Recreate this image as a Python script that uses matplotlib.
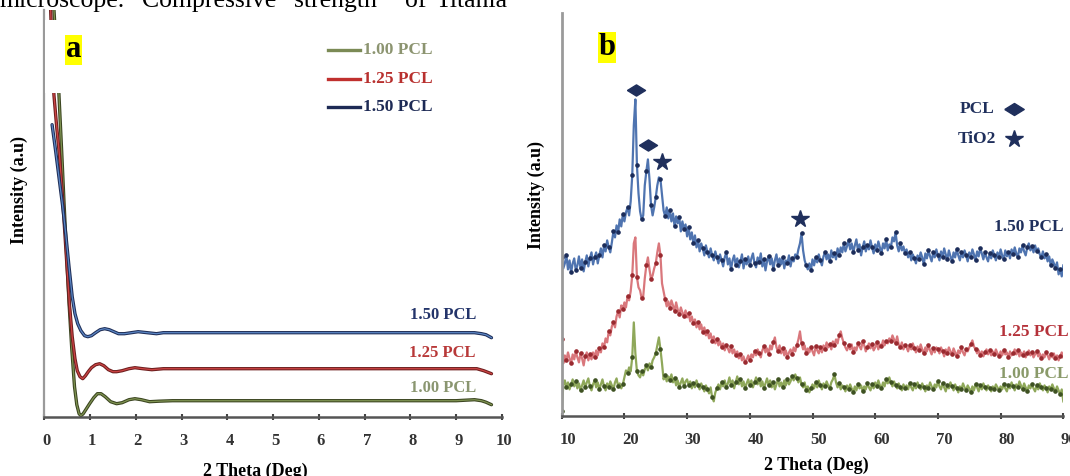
import matplotlib.pyplot as plt
import matplotlib.transforms as mtransforms
import numpy as np
from matplotlib.patches import Rectangle

plt.rcParams['font.family'] = ['Liberation Serif', 'DejaVu Serif']
plt.rcParams['font.weight'] = 'bold'

# ---- panel a : low angle curves (intensity in arbitrary units) ----
a_blue_x = [0.17, 0.25, 0.33, 0.40, 0.47, 0.54, 0.61, 0.67, 0.73, 0.80, 0.88, 0.95, 1.03, 1.12,
            1.22, 1.32, 1.42, 1.52, 1.62, 1.75, 1.90, 2.05, 2.25, 2.45, 2.6, 3.0, 4.0, 5.0, 6.0,
            7.0, 8.0, 9.0, 9.4, 9.55, 9.65, 9.77]
a_blue_y = [292, 265, 236, 211, 182, 150, 120, 103, 93, 86, 81, 80, 81, 84,
            87, 88, 87, 85, 83, 83, 84, 85, 84, 83, 84, 84, 84, 84, 84,
            84, 84, 84, 84, 83, 82, 79]

a_red_x = [0.12, 0.16, 0.21, 0.27, 0.33, 0.38, 0.44, 0.50, 0.55, 0.61, 0.67, 0.72, 0.78, 0.84,
           0.90, 0.96, 1.03, 1.12, 1.21, 1.30, 1.40, 1.50, 1.58, 1.70, 1.85, 1.98, 2.15, 2.35,
           2.6, 3.0, 4.0, 5.0, 6.0, 7.0, 8.0, 9.0, 9.45, 9.6, 9.77]
a_red_y = [430, 380, 322, 290, 262, 232, 190, 147, 112, 80, 58, 46, 40, 38,
           41, 45, 49, 52, 53, 51, 47, 45, 45, 46, 48, 49, 48, 47,
           48, 48, 48, 48, 48, 48, 48, 48, 48, 46, 43]

a_green_x = [0.17, 0.22, 0.27, 0.32, 0.38, 0.43, 0.49, 0.54, 0.60, 0.66, 0.71, 0.76, 0.80, 0.85,
             0.92, 0.99, 1.08, 1.16, 1.24, 1.33, 1.45, 1.58, 1.70, 1.85, 1.98, 2.12, 2.30, 2.5,
             2.8, 3.2, 4.0, 5.0, 6.0, 7.0, 8.0, 9.0, 9.4, 9.55, 9.65, 9.77]
a_green_y = [440, 400, 360, 322, 265, 215, 160, 114, 68, 30, 12, 3, 1, 3,
             8, 13, 19, 23, 23, 20, 15, 13, 14, 17, 18, 17, 15, 15.5,
             16, 16, 16, 16, 16, 16, 16, 16, 17, 16, 14.5, 12]

# ---- panel b : XRD patterns, one value every 0.25 deg from 10 to 90 (rows of 5 deg) ----
b_blue = [158, 147, 152, 160, 146, 155, 143, 152, 157, 145, 150, 159, 147, 156, 144, 153, 160, 149, 157, 163,
          151, 158, 163, 152, 160, 167, 158, 170, 164, 175, 168, 163, 173, 184, 178, 190, 183, 196, 189, 201,
          194, 203, 208, 200, 214, 240, 290, 316, 250, 222, 204, 196, 200, 230, 244, 256, 236, 210, 200, 208,
          218, 230, 238, 236, 220, 205, 199, 208, 197, 205, 194, 202, 189, 199, 192, 198, 184, 194, 186, 191,
          179, 188, 176, 183, 172, 180, 168, 175, 164, 172, 167, 160, 170, 163, 158, 167, 160, 155, 164, 158,
          152, 161, 155, 149, 158, 163, 151, 157, 146, 155, 160, 150, 157, 148, 154, 161, 147, 156, 151, 159,
          150, 157, 162, 152, 148, 158, 153, 162, 149, 156, 145, 154, 159, 151, 157, 146, 155, 161, 150, 157,
          151, 158, 147, 155, 152, 160, 149, 157, 154, 161, 158, 166, 172, 182, 165, 155, 150, 146, 152, 145,
          156, 150, 158, 153, 161, 155, 150, 159, 163, 156, 161, 154, 165, 158, 162, 156, 167, 160, 168, 163,
          172, 164, 169, 175, 166, 172, 163, 170, 176, 165, 171, 160, 168, 174, 164, 170, 166, 175, 168, 162,
          171, 165, 174, 168, 162, 172, 167, 176, 165, 171, 168, 178, 174, 183, 170, 164, 172, 165, 169, 162,
          166, 158, 163, 155, 161, 157, 152, 160, 156, 163, 158, 151, 162, 157, 165, 159, 154, 163, 158, 166,
          160, 155, 164, 158, 167, 161, 156, 165, 159, 154, 163, 158, 166, 160, 155, 163, 158, 165, 160, 154,
          163, 158, 166, 161, 155, 164, 159, 167, 162, 156, 163, 158, 154, 162, 157, 165, 160, 155, 163, 158,
          166, 160, 156, 165, 159, 163, 157, 166, 161, 168, 162, 158, 167, 163, 170, 164, 160, 168, 172, 165,
          169, 163, 170, 164, 167, 161, 158, 164, 157, 161, 154, 159, 150, 156, 152, 147, 153, 141, 146, 139,
          150]
b_red = [76, 52, 60, 55, 63, 57, 52, 61, 56, 64, 58, 53, 62, 57, 50, 59, 63, 55, 61, 56,
         63, 58, 65, 60, 67, 63, 72, 68, 77, 73, 84, 80, 89, 93, 88, 99, 104, 98, 110, 106,
         113, 108, 119, 115, 124, 140, 172, 178, 138, 128, 125, 117, 119, 137, 150, 158, 146, 136, 140, 147,
         152, 163, 172, 160, 132, 124, 116, 109, 114, 107, 115, 110, 104, 113, 106, 101, 108, 103, 99, 105,
         98, 102, 94, 99, 92, 96, 88, 93, 86, 91, 83, 88, 80, 84, 77, 82, 74, 79, 72, 76,
         70, 74, 68, 72, 65, 70, 67, 63, 69, 62, 66, 60, 64, 57, 61, 55, 59, 53, 56, 60,
         55, 61, 58, 64, 60, 66, 62, 58, 65, 69, 63, 67, 61, 70, 66, 73, 78, 68, 64, 70,
         62, 67, 60, 65, 58, 63, 66, 61, 68, 64, 70, 76, 84, 72, 66, 70, 62, 67, 63, 68,
         64, 60, 69, 65, 62, 68, 63, 70, 66, 73, 68, 71, 66, 74, 70, 76, 72, 80, 84, 77,
         72, 68, 65, 70, 66, 71, 63, 68, 65, 72, 69, 66, 74, 70, 64, 68, 72, 67, 71, 65,
         68, 73, 66, 71, 69, 75, 70, 74, 72, 77, 74, 80, 76, 72, 79, 71, 68, 73, 66, 70,
         68, 64, 70, 66, 72, 67, 63, 69, 65, 71, 66, 62, 68, 64, 70, 65, 61, 67, 63, 68,
         66, 62, 68, 64, 59, 66, 62, 68, 64, 61, 67, 63, 59, 65, 62, 68, 63, 60, 66, 64,
         68, 71, 75, 69, 66, 62, 65, 60, 64, 59, 63, 66, 61, 65, 60, 64, 61, 66, 62, 59,
         64, 60, 65, 61, 63, 58, 64, 60, 62, 66, 61, 65, 59, 63, 60, 64, 58, 62, 65, 60,
         63, 58, 61, 64, 59, 62, 57, 61, 58, 63, 60, 56, 61, 58, 62, 57, 60, 55, 59, 63,
         58]
b_green = [4, 30, 35, 28, 33, 26, 31, 36, 29, 34, 27, 32, 25, 30, 35, 28, 33, 37, 29, 25,
           31, 35, 28, 33, 26, 31, 36, 29, 25, 32, 28, 34, 30, 26, 33, 37, 29, 32, 27, 31,
           38, 45, 42, 48, 44, 58, 93, 62, 44, 40, 38, 44, 40, 46, 50, 45, 52, 48, 55, 58,
           62, 70, 78, 66, 52, 36, 40, 34, 39, 35, 41, 33, 37, 30, 35, 28, 33, 37, 29, 34,
           36, 30, 34, 27, 32, 28, 35, 30, 26, 32, 28, 24, 30, 26, 22, 28, 18, 14, 23, 27,
           31, 26, 33, 29, 35, 28, 32, 38, 30, 35, 27, 33, 39, 31, 36, 29, 34, 27, 32, 36,
           30, 35, 28, 33, 38, 31, 36, 29, 34, 27, 32, 37, 30, 35, 28, 33, 26, 31, 36, 29,
           33, 28, 35, 30, 36, 31, 34, 39, 35, 41, 37, 33, 38, 31, 28, 33, 25, 29, 23, 27,
           31, 27, 33, 28, 35, 30, 26, 32, 29, 34, 30, 27, 33, 36, 41, 33, 28, 32, 26, 30,
           28, 24, 30, 26, 31, 27, 23, 29, 25, 31, 27, 30, 24, 29, 26, 32, 28, 25, 31, 27,
           33, 29, 35, 30, 27, 33, 29, 36, 32, 38, 33, 29, 34, 30, 27, 32, 28, 25, 31, 27,
           30, 26, 32, 28, 25, 31, 27, 33, 29, 26, 32, 28, 24, 30, 27, 33, 29, 26, 31, 28,
           34, 29, 26, 32, 28, 24, 30, 27, 33, 29, 25, 31, 27, 23, 29, 26, 32, 28, 25, 30,
           27, 23, 29, 25, 31, 28, 24, 30, 26, 32, 28, 25, 30, 27, 24, 29, 26, 31, 28, 25,
           29, 26, 31, 27, 24, 30, 27, 33, 29, 25, 31, 28, 34, 30, 26, 32, 28, 24, 30, 27,
           31, 27, 24, 30, 26, 32, 28, 25, 30, 27, 23, 29, 26, 31, 27, 24, 29, 25, 21, 26,
           14]
two_theta = np.linspace(10, 90, len(b_blue))

# peak markers: (2theta, height)
pcl_peaks = [(21.8, 325), (23.8, 270)]
tio2_peaks = [(26.0, 253), (48.0, 196)]

labels = ['1.00 PCL', '1.25 PCL', '1.50 PCL']

fig = plt.figure(figsize=(10.7, 4.76), dpi=100)

# cut-off line of page text above the figure
for word, xpx in [('microscope.', 0), ('Compressive', 142), ('strength', 294), ('of', 405), ('Titania', 436)]:
    fig.text(xpx / 1070, 1 - 7 / 476, word, fontsize=18.5, fontweight='normal', ha='left',
             va='baseline', color='black')


def style_axis(ax):
    for s in ['top', 'right']:
        ax.spines[s].set_visible(False)
    ax.spines['left'].set_color('#9a9a9a')
    ax.spines['left'].set_linewidth(1.6)
    ax.spines['bottom'].set_color('#555555')
    ax.spines['bottom'].set_linewidth(1.8)
    ax.set_yticks([])
    ax.tick_params(axis='x', direction='inout', length=5, width=1.5, colors='#444444',
                   labelsize=12, pad=9, labelcolor='#333333')


# ===== panel a =====
ax1 = fig.add_axes([44.3 / 1070, 59.3 / 476, 457.7 / 1070, 406.7 / 476])
style_axis(ax1)
ax1.set_xlim(0, 10)
ax1.set_ylim(0, 406.7)
ax1.set_xticks(range(0, 11))

for xs, ys, dark, light in [(a_green_x, a_green_y, '#3b4520', '#7f9352'),
                            (a_red_x, a_red_y, '#6e1f1f', '#cc4444'),
                            (a_blue_x, a_blue_y, '#1f2e57', '#5b86c5')]:
    ax1.plot(xs, ys, color=dark, lw=2.4, solid_capstyle='round')
    ax1.plot(xs, ys, color=light, lw=0.9)

# white patch behind the "a" label hiding the top of the curves
ax1.add_patch(Rectangle((0.02, 323.7), 1.5, 73, facecolor='white', edgecolor='none', zorder=5))
ax1.text(0.64, 367, 'a', fontsize=22, ha='center', va='center', zorder=6,
         bbox=dict(facecolor='#ffff00', edgecolor='none', pad=0.5))

# legend drawn by hand
leg_cols = [('#7b8a55', '#8c9470'), ('#c0302e', '#b8302e'), ('#1d2a55', '#1d2a55')]
for i, (lab, (lc, tc)) in enumerate(zip(labels, leg_cols)):
    yy = 366.7 - i * 28.7
    ax1.plot([6.19, 6.89], [yy, yy], color=lc, lw=2.4)
    ax1.text(6.96, yy, lab, fontsize=12.5, color=tc, ha='left', va='center')

for lab, yy, tc in [('1.50 PCL', 101.7, '#23346a'), ('1.25 PCL', 63.7, '#b83838'),
                    ('1.00 PCL', 28.7, '#8a9670')]:
    ax1.text(9.43, yy, lab, fontsize=12, color=tc, ha='right', va='center')

ax1.set_xlabel('2 Theta (Deg)', fontsize=13, fontweight='bold', va='center')
ax1.xaxis.set_label_coords(0.46, -0.1335)
ax1.set_ylabel('Intensity (a.u)', fontsize=13, fontweight='bold', va='center')
ax1.yaxis.set_label_coords(-0.0553, 0.557)

# ===== panel b =====
ax2 = fig.add_axes([561.7 / 1070, 60.3 / 476, 501.6 / 1070, 402.7 / 476])
style_axis(ax2)
ax2.spines['left'].set_linewidth(2.0)
ax2.set_xlim(10, 90)
ax2.set_ylim(-0.3, 402.4)
ax2.set_xticks(range(10, 91, 10))

for ys, lc, mc in [(b_green, '#8fa85a', '#3e5222'),
                   (b_red, '#d9777c', '#9a2a30'),
                   (b_blue, '#4f74b0', '#1c2d5a')]:
    ax2.plot(two_theta, ys, color=lc, lw=1.6)
    ax2.plot(two_theta, ys, ls='none', marker='o', ms=2.3, color=mc, markevery=3)

diamond = [(-1, 0), (0, 0.62), (1, 0), (0, -0.62), (-1, 0)]
navy = '#1f2f5c'
for px, py in pcl_peaks:
    ax2.plot(px, py, marker=diamond, ms=13, color=navy, ls='none')
for px, py in tio2_peaks:
    ax2.plot(px, py, marker='*', ms=13, color=navy, ls='none')

ax2.text(79.0, 306, 'PCL', fontsize=12.5, color=navy, ha='right', va='center')
ax2.plot(82.1, 306, marker=diamond, ms=14, color=navy, ls='none')
ax2.text(79.2, 276, 'TiO2', fontsize=12.5, color=navy, ha='right', va='center')
ax2.plot(82.1, 276, marker='*', ms=13, color=navy, ls='none')

ax2.text(90, 188, '1.50 PCL', fontsize=12.5, color='#1f2f5c', ha='right', va='center', clip_on=False)
ax2.text(90.9, 83, '1.25 PCL', fontsize=12.5, color='#b5323a', ha='right', va='center', clip_on=False)
ax2.text(90.9, 41, '1.00 PCL', fontsize=12.5, color='#8a9a6a', ha='right', va='center', clip_on=False)

ax2.text(17.2, 368, 'b', fontsize=22, ha='center', va='center',
         bbox=dict(facecolor='#ffff00', edgecolor='none', pad=0.5))

ax2.set_xlabel('2 Theta (Deg)', fontsize=13, fontweight='bold', va='center')
ax2.xaxis.set_label_coords(0.508, -0.1224)
ax2.set_ylabel('Intensity (a.u)', fontsize=13, fontweight='bold', va='center')
ax2.yaxis.set_label_coords(-0.0512, 0.548)

# tick labels sit a little right of their ticks in the original
for ax, dx in [(ax1, 2), (ax2, 6)]:
    off = mtransforms.ScaledTranslation(dx / 100, 0, fig.dpi_scale_trans)
    for lbl in ax.get_xticklabels():
        lbl.set_transform(lbl.get_transform() + off)

fig.savefig('out.png', dpi=100)
